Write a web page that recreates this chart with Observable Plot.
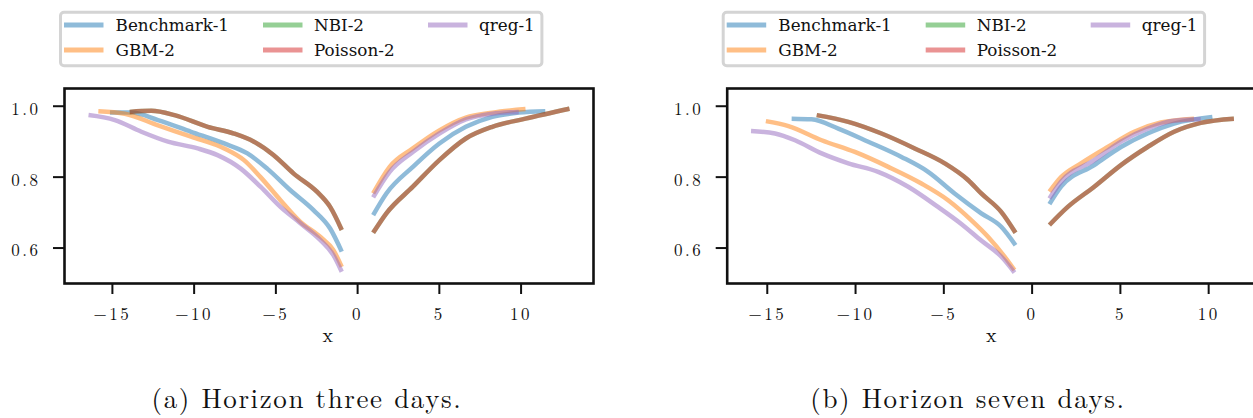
<!DOCTYPE html>
<html>
<head>
<meta charset="utf-8">
<script src="https://cdn.jsdelivr.net/npm/d3@7"></script>
<script src="https://cdn.jsdelivr.net/npm/@observablehq/plot@0.6"></script>
<style>
  html, body { margin: 0; padding: 0; background: #fff; overflow: hidden; }
  #fig { position: relative; width: 1253px; height: 418px; overflow: hidden; }
  .panel, .overlay { position: absolute; top: 0; }
</style>
</head>
<body>
<div id="fig"></div>
<script>
// Models in legend / drawing order
const models = ["Benchmark-1", "GBM-2", "NBI-2", "Poisson-2", "qreg-1"];
const modelColors = ["#1f77b4", "#ff7f0e", "#2ca02c", "#d62728", "#9467bd"];

const xTicks = [-15, -10, -5, 0, 5, 10];
const yTicks = [0.6, 0.8, 1.0];
const captions = ["(a) Horizon three days.", "(b) Horizon seven days."];

// Horizon three days: [x, y] points, negative branch then positive branch
const h3Benchmark = [
  [-15.15, 0.982], [-13.83, 0.982], [-12.21, 0.961], [-10.19, 0.928], [-8.16, 0.895], [-6.74, 0.867],
  [-5.53, 0.824], [-4.11, 0.763], [-2.70, 0.707], [-1.68, 0.655], [-0.97, 0.590],
  [0.95, 0.693], [1.76, 0.754], [3.38, 0.829], [5.0, 0.895], [6.62, 0.942], [8.24, 0.970],
  [9.86, 0.982], [11.48, 0.986]
];
const h3Gbm = [
  [-15.86, 0.986], [-14.24, 0.979], [-12.21, 0.946], [-10.19, 0.914], [-8.16, 0.881], [-6.95, 0.848],
  [-5.94, 0.800], [-4.72, 0.735], [-3.5, 0.674], [-2.29, 0.632], [-1.48, 0.594], [-0.97, 0.547],
  [0.95, 0.754], [1.96, 0.829], [3.38, 0.881], [5.0, 0.932], [6.62, 0.968], [8.24, 0.982], [10.27, 0.992]
];
const h3Nbi = [
  [-13.94, 0.984], [-12.62, 0.987], [-11.2, 0.975], [-9.17, 0.942], [-7.56, 0.923], [-6.34, 0.900],
  [-5.13, 0.862], [-3.91, 0.810], [-2.49, 0.759], [-1.68, 0.716], [-0.97, 0.651],
  [0.95, 0.643], [1.76, 0.698], [3.38, 0.773], [5.0, 0.848], [6.62, 0.909], [8.24, 0.942],
  [10.27, 0.965], [12.96, 0.993]
];
const h3Poisson = [
  [-13.94, 0.984], [-12.62, 0.987], [-11.2, 0.975], [-9.17, 0.942], [-7.56, 0.923], [-6.34, 0.900],
  [-5.13, 0.862], [-3.91, 0.810], [-2.49, 0.759], [-1.68, 0.716], [-0.97, 0.651],
  [0.95, 0.643], [1.76, 0.698], [3.38, 0.773], [5.0, 0.848], [6.62, 0.909], [8.24, 0.942],
  [10.27, 0.965], [12.96, 0.993]
];
const h3Qreg = [
  [-16.46, 0.975], [-14.85, 0.961], [-13.23, 0.928], [-11.6, 0.900], [-9.78, 0.881], [-8.57, 0.862],
  [-7.15, 0.824], [-5.94, 0.773], [-4.72, 0.716], [-3.5, 0.670], [-2.29, 0.623], [-1.48, 0.580], [-0.97, 0.533],
  [0.95, 0.743], [1.96, 0.815], [3.38, 0.871], [5.0, 0.923], [6.62, 0.963], [8.24, 0.979], [9.86, 0.984]
];

// Horizon seven days
const h7Benchmark = [
  [-13.62, 0.965], [-12.49, 0.963], [-10.98, 0.937], [-9.28, 0.900], [-7.40, 0.857], [-5.89, 0.815],
  [-4.39, 0.754], [-2.88, 0.698], [-1.75, 0.660], [-0.94, 0.608],
  [0.98, 0.724], [1.64, 0.773], [3.52, 0.834], [5.03, 0.885], [6.54, 0.923], [8.04, 0.951], [10.21, 0.970]
];
const h7Gbm = [
  [-15.08, 0.958], [-13.8, 0.944], [-11.92, 0.904], [-10.04, 0.871], [-8.15, 0.829], [-6.27, 0.782],
  [-4.76, 0.735], [-3.45, 0.679], [-2.5, 0.632], [-1.56, 0.576], [-1.0, 0.538],
  [0.98, 0.759], [1.64, 0.800], [2.77, 0.839], [4.28, 0.885], [5.78, 0.928], [7.29, 0.954], [9.17, 0.965]
];
const h7Nbi = [
  [-12.2, 0.975], [-10.41, 0.956], [-8.53, 0.923], [-6.65, 0.881], [-4.95, 0.839], [-3.63, 0.792],
  [-2.88, 0.754], [-1.75, 0.702], [-0.94, 0.643],
  [0.98, 0.665], [2.02, 0.716], [3.52, 0.773], [5.03, 0.834], [6.54, 0.885], [8.04, 0.928],
  [9.55, 0.953], [11.43, 0.965]
];
const h7Poisson = [
  [-12.2, 0.975], [-10.41, 0.956], [-8.53, 0.923], [-6.65, 0.881], [-4.95, 0.839], [-3.63, 0.792],
  [-2.88, 0.754], [-1.75, 0.702], [-0.94, 0.643],
  [0.98, 0.665], [2.02, 0.716], [3.52, 0.773], [5.03, 0.834], [6.54, 0.885], [8.04, 0.928],
  [9.55, 0.953], [11.43, 0.965]
];
const h7Qreg = [
  [-15.92, 0.930], [-14.56, 0.923], [-13.43, 0.904], [-11.92, 0.867], [-10.41, 0.839], [-8.72, 0.815],
  [-7.02, 0.773], [-5.33, 0.716], [-4.01, 0.668], [-2.88, 0.621], [-1.75, 0.576], [-1.0, 0.531],
  [0.98, 0.740], [1.64, 0.787], [3.52, 0.848], [5.03, 0.900], [6.54, 0.937], [8.04, 0.959], [9.55, 0.963]
];

function toRows(seriesList) {
  const rows = [];
  seriesList.forEach((pts, i) => {
    for (const [x, y] of pts) rows.push({model: models[i], side: x < 0 ? "neg" : "pos", x, y});
  });
  return rows;
}

const fmtX = d => d < 0 ? "\u2212" + Math.abs(d) : String(d);
const fmtY = d3.format(".1f");
const cmFont = "'Latin Modern Roman', 'CMU Serif', serif";

function panel(rows, xDomain, opts) {
  return Plot.plot({
    width: 600,
    height: 360,
    marginTop: 88,
    marginBottom: 77,
    marginLeft: opts.marginLeft,
    marginRight: opts.marginRight,
    style: {fontFamily: cmFont, fontSize: "17px", letterSpacing: "2.5px", background: "transparent", color: "#111", overflow: "visible"},
    x: {domain: xDomain},
    y: {domain: [0.5, 1.05]},
    color: {domain: models, range: modelColors},
    marks: [
      Plot.line(rows, {
        x: "x", y: "y", z: d => d.model + d.side, stroke: "model",
        strokeOpacity: 0.5, strokeWidth: 4.5, strokeLinecap: "butt", curve: "monotone-x"
      }),
      Plot.frame({stroke: "#111", strokeWidth: 2.6}),
      Plot.axisX({ticks: xTicks, tickFormat: fmtX, tickSize: 11, tickPadding: 13, strokeWidth: 2, label: null}),
      // y tick marks, then the labels sitting slightly below each tick
      Plot.axisY({ticks: yTicks, tickFormat: () => "", tickSize: 11, strokeWidth: 2, label: null}),
      Plot.axisY({ticks: yTicks, tickFormat: fmtY, tickSize: 0, tickPadding: 24, dy: 3, label: null}),
      Plot.text([0], {frameAnchor: "bottom", text: () => "x", dy: 58.5, fontSize: 20})
    ]
  });
}

const fig = document.getElementById("fig");

const a = panel(toRows([h3Benchmark, h3Gbm, h3Nbi, h3Poisson, h3Qreg]), [-17.93, 14.43], {marginLeft: 64, marginRight: 7});
a.classList.add("panel");
a.style.left = "0px";
fig.appendChild(a);

const b = panel(toRows([h7Benchmark, h7Gbm, h7Nbi, h7Poisson, h7Qreg]), [-17.27, 12.8], {marginLeft: 66.7, marginRight: 2.4});
b.classList.add("panel");
b.style.left = "660px";
fig.appendChild(b);

// Legends above each panel and sub-captions below
const overlay = d3.create("svg")
  .attr("class", "overlay")
  .attr("width", 1253)
  .attr("height", 418)
  .style("left", "0px");

const legendCols = [[0, 0], [0, 1], [1, 0], [1, 1], [2, 0]];   // [column, row] per model
const colSwatch = [5, 204, 369];
const colText = [56.6, 255, 420];

for (const left of [59, 721.7]) {
  const g = overlay.append("g").attr("transform", `translate(${left},0)`);
  g.append("rect")
    .attr("x", 1.5).attr("y", 12.2)
    .attr("width", 481.4).attr("height", 53.6)
    .attr("rx", 3.5)
    .attr("fill", "#fff").attr("stroke", "#d4d4d4").attr("stroke-width", 3);
  models.forEach((m, i) => {
    const [c, r] = legendCols[i];
    const y = 25 + r * 25;
    g.append("line")
      .attr("x1", colSwatch[c]).attr("x2", colSwatch[c] + 39.5)
      .attr("y1", y).attr("y2", y)
      .attr("stroke", modelColors[i]).attr("stroke-opacity", 0.5).attr("stroke-width", 5);
    g.append("text")
      .attr("x", colText[c]).attr("y", y + 6.3)
      .attr("font-family", "'DejaVu Serif', serif").attr("font-size", 16.8)
      .attr("fill", "#111")
      .text(m);
  });
}

[[307, captions[0]], [968, captions[1]]].forEach(([cx, t]) => {
  overlay.append("text")
    .attr("x", cx).attr("y", 408)
    .attr("text-anchor", "middle")
    .attr("font-family", cmFont).attr("font-size", 27)
    .attr("letter-spacing", "1.6px")
    .attr("fill", "#111")
    .text(t);
});

fig.appendChild(overlay.node());
</script>
</body>
</html>
